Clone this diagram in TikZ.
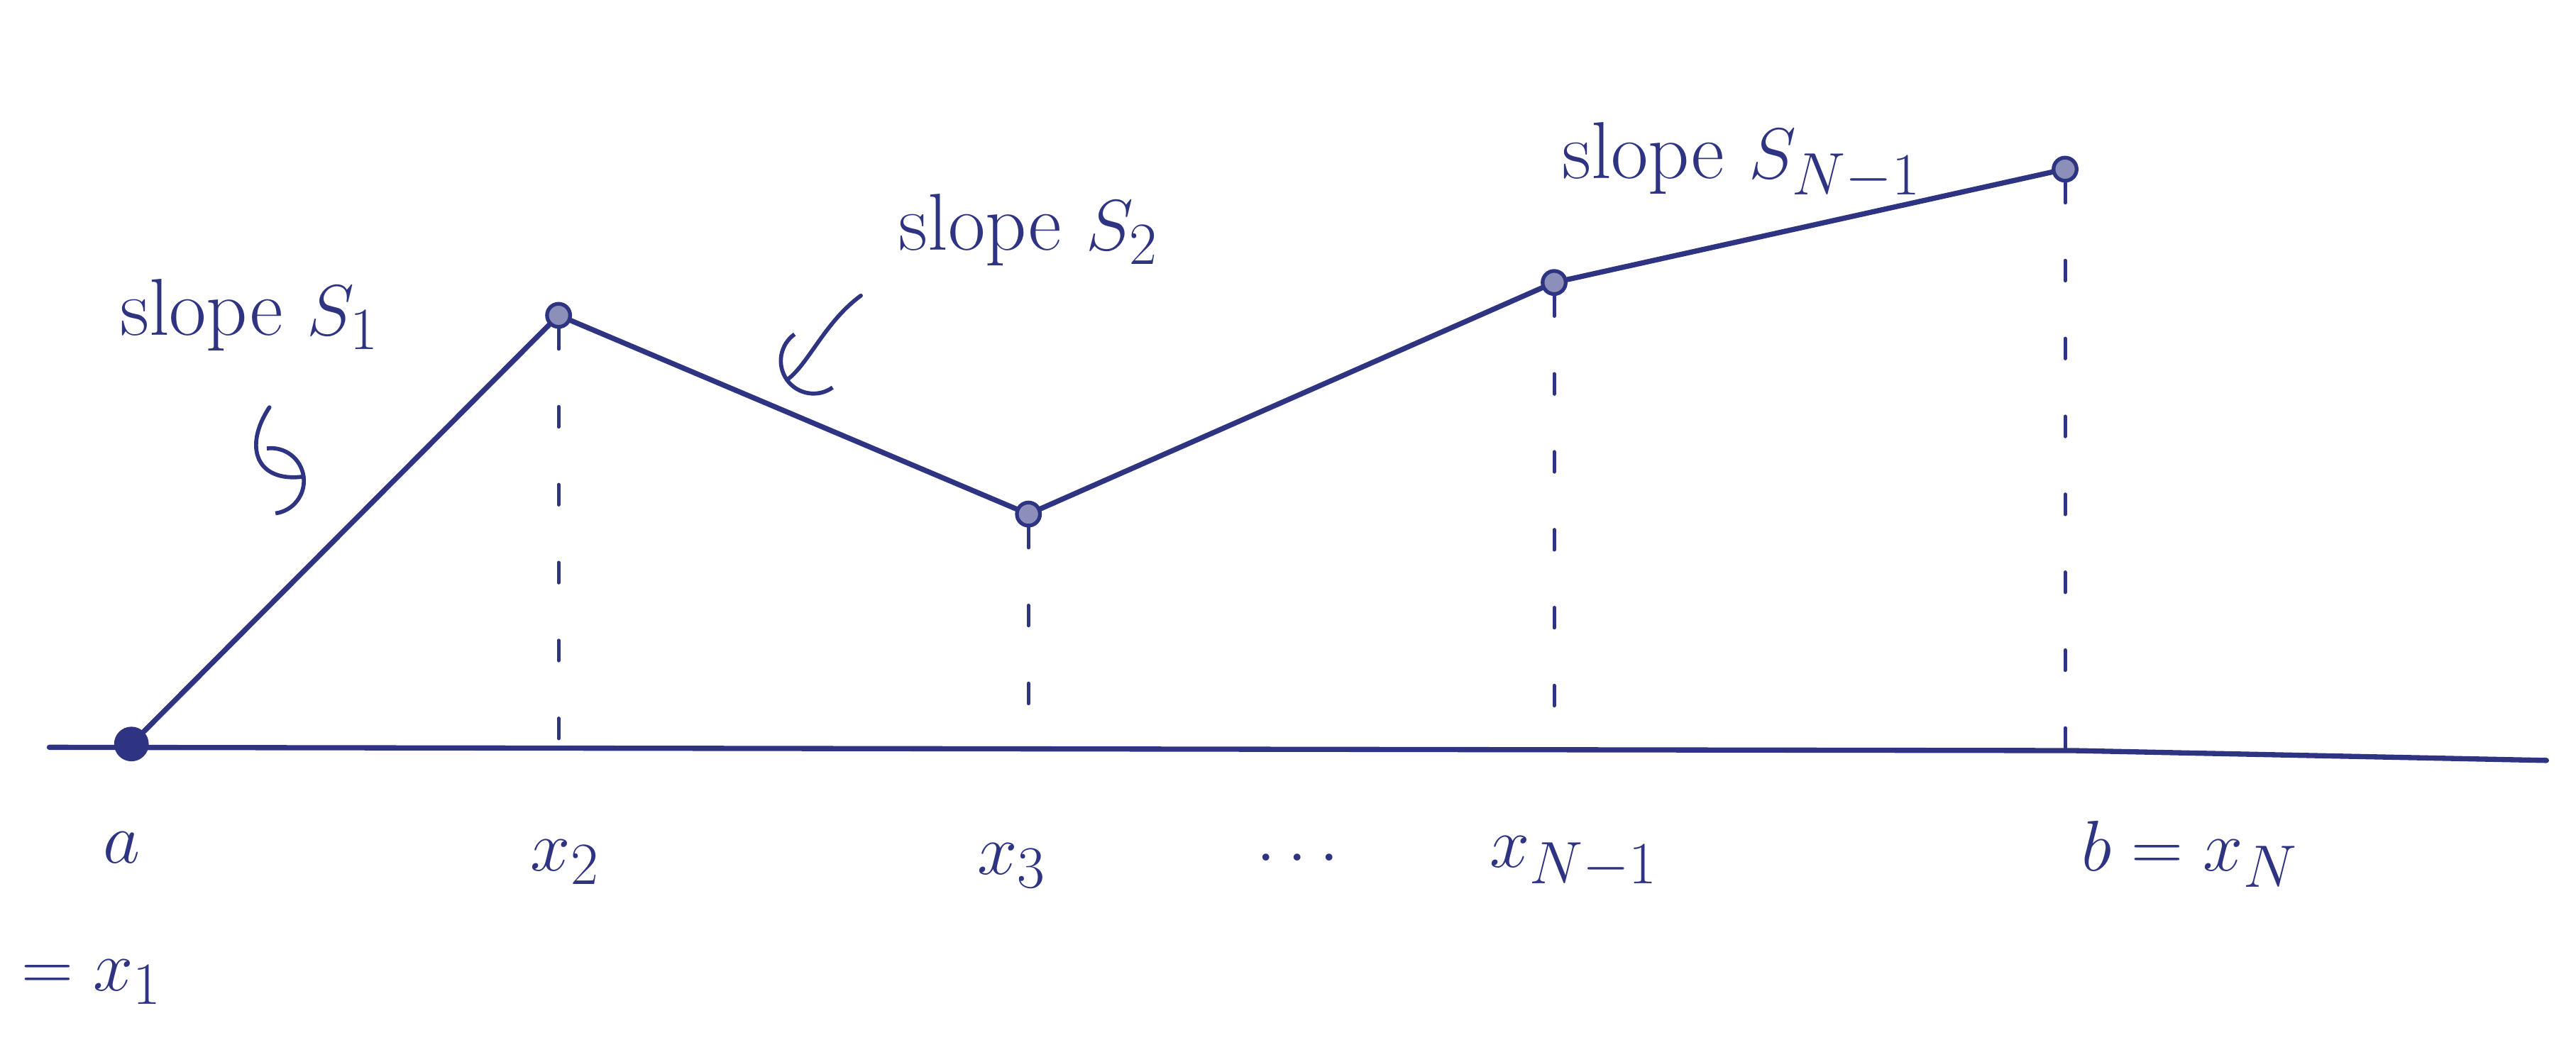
\documentclass[tikz,border=0pt]{standalone}
\usepackage{tikz}
\usetikzlibrary{arrows.meta,positioning}
\usepackage{xcolor}
\definecolor{inkblue}{RGB}{46,52,130}

\begin{document}
\begin{tikzpicture}[
  x=0.02cm, y=-0.02cm,
  curve/.style={draw=inkblue, line width=1.8pt, line cap=round},
  guide/.style={draw=inkblue, line width=1.2pt, line cap=round, dash pattern=on 7pt off 20pt},
  pt/.style={circle, draw=inkblue, fill=inkblue!55, line width=1.3pt, inner sep=0pt, minimum size=8pt},
  endpt/.style={circle, fill=inkblue, inner sep=0pt, minimum size=12pt},
  lbl/.style={text=inkblue, inner sep=1pt, font=\fontsize{28}{30}\selectfont},
  hook/.style={draw=inkblue, line width=1.4pt, line cap=round, -{Arc Barb[scale=2.8]}}
]
\useasboundingbox (0,0) rectangle (1568,636);

% the axis
\coordinate (ax0) at (30,455);
\coordinate (axm) at (1262,457);
\coordinate (ax1) at (1550,463);
\draw[curve] (ax0) -- (axm) -- (ax1);

% nodes of the piecewise linear function
\node[endpt] (p1) at (80,453) {};
\node[pt] (p2) at (340,192) {};
\node[pt] (p3) at (626,313) {};
\node[pt] (p4) at (946,172) {};
\node[pt] (p5) at (1257,103) {};
\draw[curve] (p1) -- (p2) -- (p3) -- (p4) -- (p5);

% feet on the axis
\coordinate (q2) at (340,456);
\coordinate (q3) at (626,456);
\coordinate (q4) at (946,456);
\coordinate (q5) at (1257,457);
\draw[guide] (p2) -- (q2);
\draw[guide] (p3) -- (q3);
\draw[guide] (p4) -- (q4);
\draw[guide] (p5) -- (q5);

% abscissae
\node[lbl, font=\fontsize{34}{36}\selectfont] (la) at (74,516) {$a$};
\node[lbl] (lx1) at (56,598) {$=x_1$};
\node[lbl] (lx2) at (344,525) {$x_2$};
\node[lbl] (lx3) at (616,527) {$x_3$};
\node[lbl] (ldots) at (790,522) {$\dots$};
\node[lbl] (lxn1) at (958,525) {$x_{N-1}$};
\node[lbl] (lb) at (1333,520) {$b=x_N$};

% slopes
\node[lbl] (s1) at (152,192) {slope $S_1$};
\node[lbl] (s2) at (626,140) {slope $S_2$};
\node[lbl] (sn1) at (1060,98) {slope $S_{N-1}$};
\coordinate (h1a) at (164,248);
\coordinate (h1b) at (186,290);
\draw[hook] (h1a) .. controls (148,272) and (156,294) .. (h1b);
\coordinate (h2a) at (524,180);
\coordinate (h2b) at (478,232);
\draw[hook] (h2a) .. controls (502,196) and (492,222) .. (h2b);
\end{tikzpicture}
\end{document}
